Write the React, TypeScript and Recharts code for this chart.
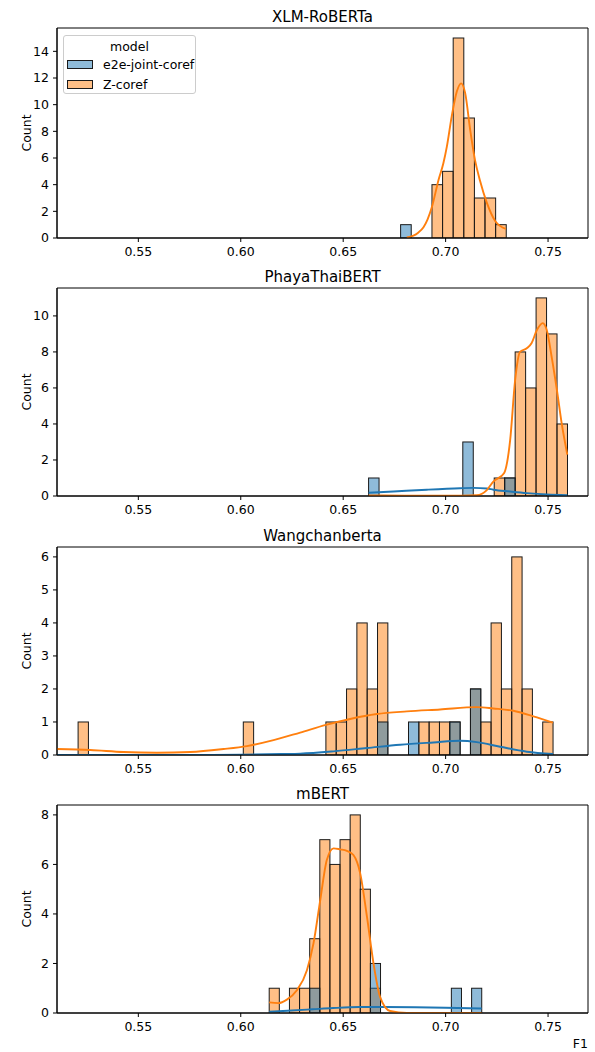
import React from "react";
import { Bar, ComposedChart, Line, ReferenceArea, XAxis, YAxis } from "recharts";

const X_MIN = 0.5103;
const X_MAX = 0.7695;
const X_TICKS = [0.55, 0.6, 0.65, 0.7, 0.75];

const BLUE = "#1f77b4";
const ORANGE = "#ff7f0e";
const MODELS = ["e2e-joint-coref", "Z-coref"];
const MODEL_COLORS = [BLUE, ORANGE];

// XLM-RoBERTa
const xlmBinStart = 0.6778;
const xlmBinWidth = 0.00518;
const xlmE2e = [1, 0, 0, 0, 0, 0, 0, 0, 0, 0];
const xlmZ = [0, 0, 0, 4, 5, 15, 9, 3, 3, 1];
const xlmKdeE2e: number[][] = [];
const xlmKdeZ = [
  [0.681, 0.05], [0.6843, 0.18], [0.6866, 0.4], [0.6892, 0.81], [0.6912, 1.4],
  [0.6933, 2.32], [0.6965, 4.34], [0.6989, 5.6], [0.7006, 6.85], [0.703, 9.14],
  [0.7055, 11.0], [0.7076, 11.6], [0.7095, 10.9], [0.712, 8.1], [0.7144, 5.8],
  [0.7168, 4.3], [0.7201, 2.65], [0.7241, 1.3], [0.7294, 0.68],
];

// PhayaThaiBERT
const ptBinStart = 0.6624;
const ptBinWidth = 0.00511;
const ptE2e = [1, 0, 0, 0, 0, 0, 0, 0, 0, 3, 0, 0, 0, 1, 0, 0, 0, 0, 0];
const ptZ = [0, 0, 0, 0, 0, 0, 0, 0, 0, 0, 0, 0, 1, 1, 8, 6, 11, 9, 4];
const ptKdeE2e = [
  [0.6624, 0.18], [0.6745, 0.25], [0.6908, 0.35], [0.7071, 0.43], [0.7136, 0.45],
  [0.7201, 0.42], [0.7233, 0.35], [0.7315, 0.25], [0.7396, 0.16], [0.7494, 0.08],
  [0.7594, 0.04],
];
const ptKdeZ = [
  [0.6624, 0.03], [0.68, 0.02], [0.7, 0.02], [0.7152, 0.05], [0.7201, 0.33],
  [0.7233, 0.8], [0.7285, 1.26], [0.7315, 3.1], [0.7339, 6.4], [0.7363, 8.0],
  [0.7396, 8.2], [0.742, 8.5], [0.7445, 9.2], [0.7474, 9.6], [0.7494, 9.2],
  [0.7518, 7.7], [0.7543, 5.9], [0.7567, 4.0], [0.7594, 2.3],
];

// Wangchanberta
const wcBinStart = 0.5206;
const wcBinWidth = 0.00504;
const wcE2e = [
  0, 0, 0, 0, 0, 0, 0, 0, 0, 0, 0, 0, 0, 0, 0, 0, 0, 0, 0, 0, 0, 0, 0, 0,
  0, 0, 0, 0, 0, 1, 0, 0, 1, 0, 0, 0, 1, 0, 2, 0, 0, 0, 0, 0, 0, 0,
];
const wcZ = [
  1, 0, 0, 0, 0, 0, 0, 0, 0, 0, 0, 0, 0, 0, 0, 0, 1, 0, 0, 0, 0, 0, 0, 0,
  1, 1, 2, 4, 2, 4, 0, 0, 0, 1, 1, 1, 1, 0, 2, 1, 4, 2, 6, 2, 0, 1,
];
const wcKdeE2e = [
  [0.5103, 0.0], [0.58, 0.0], [0.6, 0.01], [0.62, 0.03], [0.629, 0.04],
  [0.6453, 0.11], [0.6616, 0.21], [0.6778, 0.31], [0.6941, 0.38], [0.7071, 0.43],
  [0.7152, 0.39], [0.7266, 0.25], [0.7396, 0.1], [0.7524, 0.03],
];
const wcKdeZ = [
  [0.5103, 0.18], [0.5266, 0.15], [0.5428, 0.09], [0.5591, 0.07], [0.5754, 0.09],
  [0.5916, 0.18], [0.603, 0.27], [0.616, 0.45], [0.629, 0.68], [0.6416, 0.91],
  [0.6534, 1.09], [0.6664, 1.24], [0.6811, 1.32], [0.6973, 1.38], [0.7152, 1.45],
  [0.7233, 1.41], [0.7331, 1.34], [0.7428, 1.17], [0.7524, 0.98],
];

// mBERT
const mbBinStart = 0.6139;
const mbBinWidth = 0.00494;
const mbE2e = [0, 0, 0, 0, 1, 0, 0, 0, 0, 0, 2, 0, 0, 0, 0, 0, 0, 0, 1, 0, 1];
const mbZ = [1, 0, 1, 1, 3, 7, 6, 7, 8, 5, 1, 0, 0, 0, 0, 0, 0, 0, 0, 0, 0];
const mbKdeE2e = [
  [0.6139, 0.05], [0.625, 0.1], [0.635, 0.15], [0.645, 0.2], [0.658, 0.24],
  [0.67, 0.24], [0.685, 0.23], [0.7, 0.21], [0.7176, 0.18],
];
const mbKdeZ = [
  [0.6139, 0.43], [0.6184, 0.4], [0.6225, 0.54], [0.6274, 0.92], [0.6323, 1.73],
  [0.6355, 2.81], [0.6388, 4.56], [0.642, 6.18], [0.6453, 6.65], [0.6485, 6.61],
  [0.6518, 6.55], [0.655, 6.38], [0.6583, 5.64], [0.6616, 3.89], [0.6648, 2.0],
  [0.668, 0.65], [0.6729, 0.08], [0.6811, 0.0], [0.7, 0.0], [0.7176, 0.0],
];

const PANELS = [
  { title: "XLM-RoBERTa", binStart: xlmBinStart, binWidth: xlmBinWidth, e2e: xlmE2e, z: xlmZ, kdeE2e: xlmKdeE2e, kdeZ: xlmKdeZ, yMax: 15.75, yTicks: [0, 2, 4, 6, 8, 10, 12, 14] },
  { title: "PhayaThaiBERT", binStart: ptBinStart, binWidth: ptBinWidth, e2e: ptE2e, z: ptZ, kdeE2e: ptKdeE2e, kdeZ: ptKdeZ, yMax: 11.55, yTicks: [0, 2, 4, 6, 8, 10] },
  { title: "Wangchanberta", binStart: wcBinStart, binWidth: wcBinWidth, e2e: wcE2e, z: wcZ, kdeE2e: wcKdeE2e, kdeZ: wcKdeZ, yMax: 6.3, yTicks: [0, 1, 2, 3, 4, 5, 6] },
  { title: "mBERT", binStart: mbBinStart, binWidth: mbBinWidth, e2e: mbE2e, z: mbZ, kdeE2e: mbKdeE2e, kdeZ: mbKdeZ, yMax: 8.4, yTicks: [0, 2, 4, 6, 8] },
];

const PLOT_LEFT = 57;
const PLOT_W = 531;
const PLOT_TOPS = [28, 288, 546.5, 805];
const PLOT_HS = [210, 208, 208, 208];
const FONT = "'DejaVu Sans', sans-serif";
const TICK = { fontSize: 12.5, fill: "#000", fontFamily: FONT };

// histogram bar: keep the centre Recharts computed, draw it one bin wide
const histShape = (barPx: number) => (props: any) => {
  const { x, y, width, height, fill } = props;
  if (!height || !isFinite(y)) return <g />;
  const cx = x + width / 2;
  return (
    <rect
      x={cx - barPx / 2}
      y={y}
      width={barPx}
      height={height}
      fill={fill}
      fillOpacity={0.5}
      stroke="#1a1a1a"
      strokeWidth={1}
    />
  );
};

function Panel({ p, top, plotH }: { p: (typeof PANELS)[number]; top: number; plotH: number }) {
  const rows = p.z.map((c, i) => ({
    x: p.binStart + (i + 0.5) * p.binWidth,
    e2e: p.e2e[i] || null,
    z: c || null,
  }));
  const kdeZ = p.kdeZ.map(([x, y]) => ({ x, y }));
  const kdeE2e = p.kdeE2e.map(([x, y]) => ({ x, y }));
  const barPx = (p.binWidth / (X_MAX - X_MIN)) * PLOT_W;
  const h = 28 + plotH + 30;

  return (
    <div style={{ position: "absolute", left: 0, top: top - 28, width: 595, height: h }}>
      <div
        style={{
          position: "absolute", left: PLOT_LEFT, width: PLOT_W, top: 10, textAlign: "center",
          fontSize: 15, lineHeight: "15px", fontFamily: FONT, color: "#000",
        }}
      >
        {p.title}
      </div>
      <div
        style={{
          position: "absolute", left: 27, top: 28 + plotH / 2, fontSize: 12.5, fontFamily: FONT,
          transform: "translate(-50%, -50%) rotate(-90deg)", whiteSpace: "nowrap", lineHeight: "14px",
        }}
      >
        Count
      </div>
      <ComposedChart width={595} height={h} data={rows} margin={{ top: 28, right: 7, bottom: 0, left: 17 }}>
        <XAxis
          xAxisId="z"
          dataKey="x"
          type="number"
          domain={[X_MIN, X_MAX]}
          allowDataOverflow
          ticks={X_TICKS}
          interval={0}
          tickFormatter={(v: number) => v.toFixed(2)}
          tick={TICK}
          tickSize={4}
          tickMargin={5}
          height={30}
          stroke="#000"
        />
        <XAxis
          xAxisId="e2e"
          dataKey="x"
          type="number"
          domain={[X_MIN, X_MAX]}
          allowDataOverflow
          height={0}
          hide
        />
        <YAxis
          yAxisId="l"
          type="number"
          domain={[0, p.yMax]}
          allowDataOverflow
          ticks={p.yTicks}
          interval={0}
          tick={TICK}
          tickSize={4}
          tickMargin={4}
          width={40}
          stroke="#000"
        />
        <Bar
          xAxisId="z"
          yAxisId="l"
          dataKey="z"
          name={MODELS[1]}
          barSize={barPx}
          fill={ORANGE}
          shape={histShape(barPx)}
          isAnimationActive={false}
        />
        <Bar
          xAxisId="e2e"
          yAxisId="l"
          dataKey="e2e"
          name={MODELS[0]}
          barSize={barPx}
          fill={BLUE}
          shape={histShape(barPx)}
          isAnimationActive={false}
        />
        {kdeE2e.length > 0 && (
          <Line
            xAxisId="e2e"
            yAxisId="l"
            data={kdeE2e}
            dataKey="y"
            type="monotone"
            stroke={BLUE}
            strokeWidth={1.9}
            dot={false}
            activeDot={false}
            isAnimationActive={false}
          />
        )}
        <Line
          xAxisId="z"
          yAxisId="l"
          data={kdeZ}
          dataKey="y"
          type="monotone"
          stroke={ORANGE}
          strokeWidth={1.9}
          dot={false}
          activeDot={false}
          isAnimationActive={false}
        />
        <ReferenceArea
          xAxisId="z"
          yAxisId="l"
          x1={X_MIN}
          x2={X_MAX}
          y1={0}
          y2={p.yMax}
          fill="none"
          stroke="#000"
          strokeWidth={1}
          ifOverflow="visible"
        />
      </ComposedChart>
    </div>
  );
}

function Legend() {
  return (
    <div
      style={{
        position: "absolute", left: 63, top: 35, width: 131, height: 57,
        border: "1px solid #cccccc", borderRadius: 3, background: "rgba(255,255,255,0.8)",
        fontFamily: FONT, fontSize: 12.5, color: "#000",
      }}
    >
      <div style={{ textAlign: "center", marginTop: 3, lineHeight: "15px" }}>model</div>
      {MODELS.map((m, i) => (
        <div key={m} style={{ display: "flex", alignItems: "center", height: 20, marginLeft: 3 }}>
          <span
            style={{
              display: "inline-block", width: 24, height: 7, marginRight: 10,
              background: MODEL_COLORS[i] + "80", border: "1px solid #1a1a1a",
            }}
          />
          <span>{m}</span>
        </div>
      ))}
    </div>
  );
}

export default function App() {
  return (
    <div style={{ position: "absolute", left: 0, top: 0, width: 595, height: 1052, background: "#fff" }}>
      {PANELS.map((p, i) => (
        <Panel key={p.title} p={p} top={PLOT_TOPS[i]} plotH={PLOT_HS[i]} />
      ))}
      <Legend />
      <div
        style={{
          position: "absolute", right: 7, top: 1036, fontFamily: FONT, fontSize: 12.5, lineHeight: "15px",
        }}
      >
        F1
      </div>
    </div>
  );
}
